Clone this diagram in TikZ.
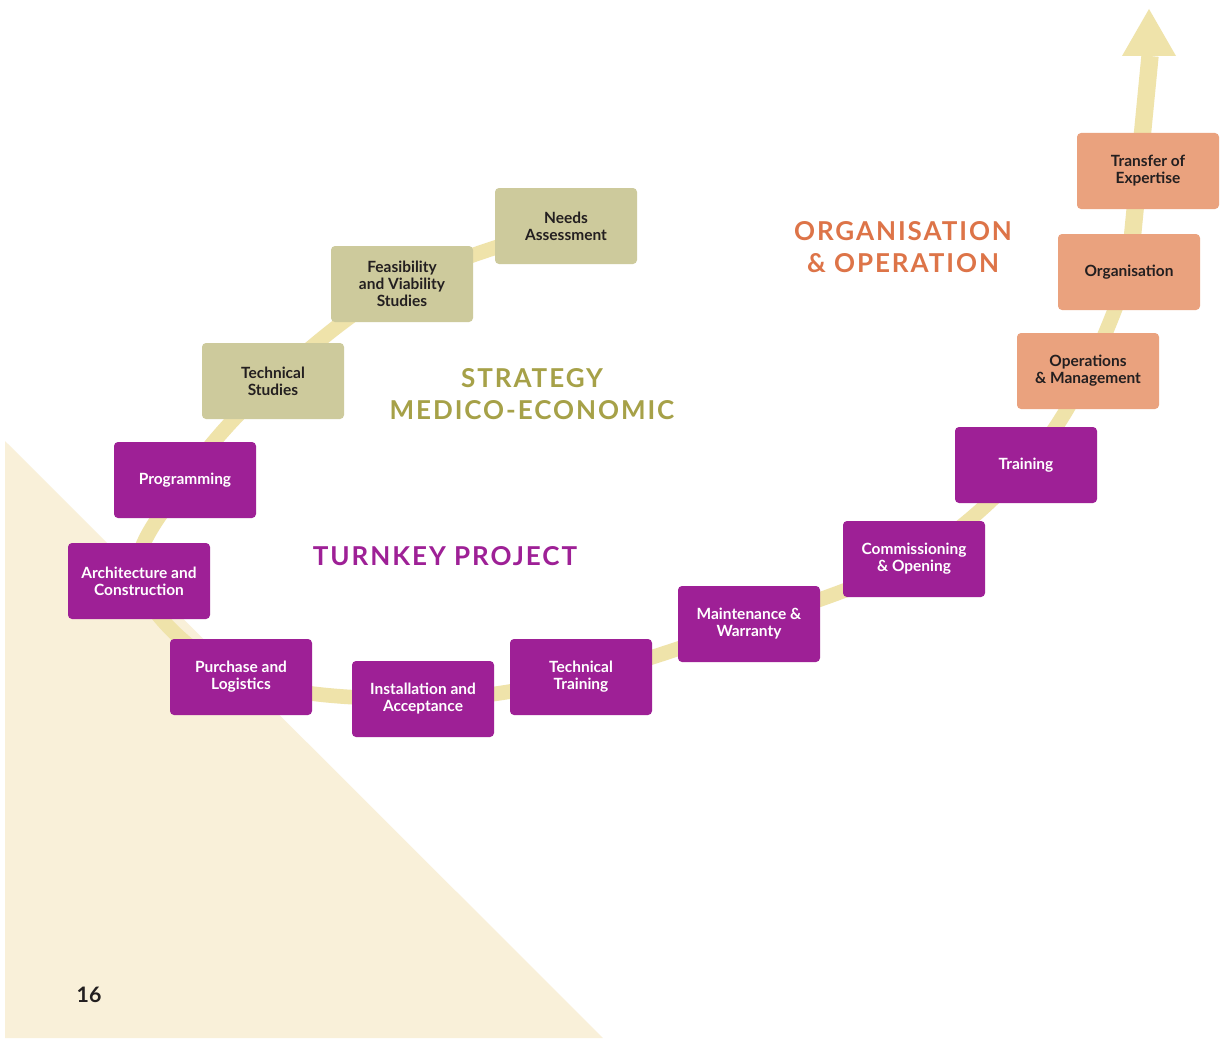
\documentclass[tikz,border=0pt]{standalone}
\usepackage{fontspec}
\setmainfont{Lato}
\definecolor{purp}{HTML}{9E2096}
\definecolor{khaki}{HTML}{CDCA9C}
\definecolor{salmon}{HTML}{EAA27E}
\definecolor{pathc}{HTML}{EFE3AA}
\definecolor{tri}{HTML}{F9F0D9}
\definecolor{olivet}{HTML}{A6A148}
\definecolor{oranget}{HTML}{DD7448}
\definecolor{darkt}{HTML}{231F20}
\pgfdeclarelayer{bgtri}
\pgfdeclarelayer{bgpath}
\pgfsetlayers{bgtri,bgpath,main}
\begin{document}
\begin{tikzpicture}[x=0.75pt,y=-0.75pt,
  box/.style={rounded corners=3pt, minimum width=106.5pt, minimum height=57pt,
    align=center, inner sep=0pt, font=\fontsize{11.6}{12.8}\selectfont\bfseries,
    execute at begin node={\vspace*{3pt}}},
  pbox/.style={box, fill=purp, text=white},
  kbox/.style={box, fill=khaki, text=darkt},
  sbox/.style={box, fill=salmon, text=darkt},
  ttl/.style={align=center, inner sep=0pt, font=\fontsize{19.5}{24}\selectfont\bfseries\addfontfeature{LetterSpace=7.5}},
  pathline/.style={draw=pathc, line width=11pt, line cap=butt, line join=round}]
\useasboundingbox (0,0) rectangle (1230,1038);
\begin{pgfonlayer}{bgtri}
\fill[white] (0,0) rectangle (1230,1038);
\fill[tri] (5,441) -- (5,1038) -- (603,1038) -- cycle;
\end{pgfonlayer}

\coordinate (tip) at (1150,56);

\path
  (566,226) node[kbox] (needs) {Needs\\Assessment}
  (402,284) node[kbox] (feas) {Feasibility\\and Viability\\Studies}
  (273,381) node[kbox] (techs) {Technical\\Studies}
  (185,480) node[pbox] (prog) {Programming}
  (139,581) node[pbox] (arch) {Architecture and\\Construction}
  (241,677) node[pbox] (purch) {Purchase and\\Logistics}
  (423,699) node[pbox] (inst) {Installation and\\Acceptance}
  (581,677) node[pbox] (techtr) {Technical\\Training}
  (749,624) node[pbox] (maint) {Maintenance \&\\Warranty}
  (914,559) node[pbox] (comm) {Commissioning\\\& Opening}
  (1026,465) node[pbox] (train) {Training}
  (1088,371) node[sbox] (ops) {Operations\\\& Management}
  (1129,272) node[sbox] (org) {Organisation}
  (1148,171) node[sbox] (transf) {Transfer of\\Expertise};

\begin{pgfonlayer}{bgpath}
\draw[pathline] plot[smooth, tension=0.6] coordinates {(needs.center) (feas.center) (techs.center) (prog.center) (arch.center) (purch.center) (inst.center) (techtr.center) (maint.center) (comm.center) (train.center) (ops.center) (org.center)};
\draw[pathline, line width=13pt] (org.center) -- (tip);
\fill[pathc] (1122,56) -- (1176,56) -- (1149,9) -- cycle;
\end{pgfonlayer}

\node[ttl, text=olivet] (strat) at (532,394) {STRATEGY\\MEDICO-ECONOMIC};
\node[ttl, text=purp] (turn) at (445,556) {TURNKEY PROJECT};
\node[ttl, text=oranget] (orgop) at (903,247) {ORGANISATION\\\& OPERATION};
\node[font=\fontsize{16}{18}\selectfont\bfseries, text=darkt] (pg) at (89,995) {16};
\end{tikzpicture}
\end{document}
